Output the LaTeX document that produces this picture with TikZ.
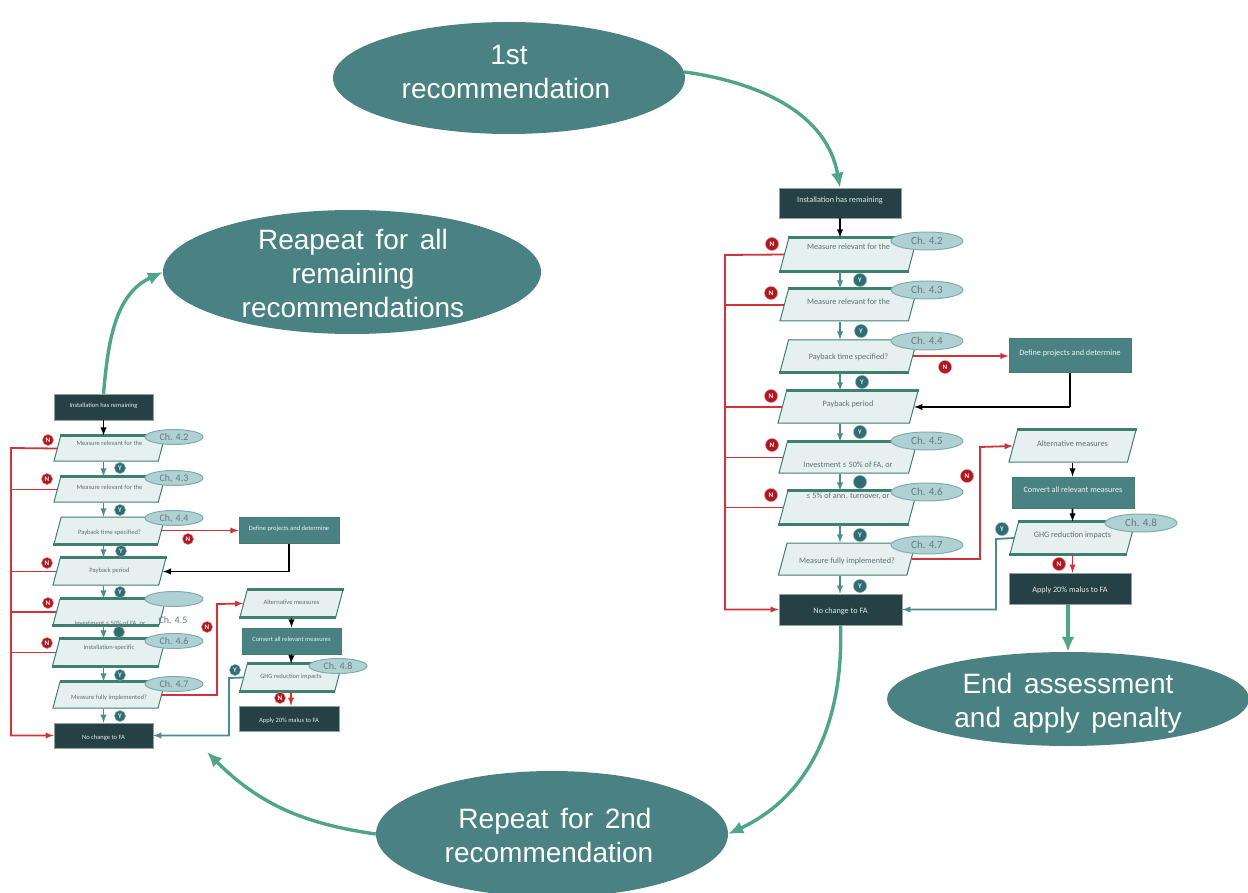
\documentclass[tikz,border=0pt]{standalone}
\usepackage{fontspec}
\setmainfont{Carlito}
\newfontfamily\bigfont[WordSpace=1.5]{Liberation Sans}
\usetikzlibrary{arrows.meta}
\usetikzlibrary{shapes.geometric}
\tikzset{>=latex}
\definecolor{darkbox}{HTML}{264145}
\definecolor{tealbox}{HTML}{4A8284}
\definecolor{parafill}{HTML}{E6F0F0}
\definecolor{paraedge}{HTML}{3F7F70}
\definecolor{chfill}{HTML}{AFD1D3}
\definecolor{chedge}{HTML}{7FADAE}
\definecolor{flowgreen}{HTML}{4FA58A}
\definecolor{redline}{HTML}{D0343A}
\definecolor{tealline}{HTML}{4A8B90}
\definecolor{yesfill}{HTML}{2F6D73}
\definecolor{nofill}{HTML}{B01820}
\newcommand{\chartfont}{\fontsize{8.2}{10}\selectfont}
\newcommand{\chfont}{\fontsize{11}{13}\selectfont}
% text moved up from the middle of its node
\newcommand{\tup}[2]{\smash{\raisebox{\dimexpr#1pt-3.5pt\relax}{#2}}}
\newcommand{\bigup}[3]{\smash{\hspace*{#1pt}\raisebox{\dimexpr#2pt-7pt\relax}{\begin{tabular}{@{}c@{}}#3\end{tabular}}}}
\tikzset{
  para/.style 2 args={draw=paraedge,fill=parafill,line width=1pt,shape=trapezium,trapezium stretches body=true,
    trapezium left angle=75,trapezium right angle=105,minimum width=#1pt,text height=0.5*#2pt,text depth=0.5*#2pt,inner sep=0pt,
    text=darkbox!75,font=\chartfont},
  paratext/.style={inner sep=0pt,text=darkbox!75,font=\chartfont},
  darkrect/.style 2 args={fill=darkbox,draw=darkbox!50,line width=.5pt,minimum width=#1pt,minimum height=#2pt,inner sep=0pt,
    text=white!88!darkbox,font=\chartfont},
  tealrect/.style 2 args={fill=tealbox,draw=paraedge,line width=1pt,minimum width=#1pt,minimum height=#2pt,inner sep=0pt,
    text=white!90!tealbox,font=\chartfont},
  chell/.style 2 args={ellipse,fill=chfill,draw=chedge,line width=1pt,minimum width=#1pt,minimum height=#2pt,inner sep=0pt,
    text=darkbox!70,font=\chfont},
  chtext/.style={inner sep=0pt,text=darkbox!70,font=\chfont},
  bigell/.style 2 args={ellipse,fill=tealbox,minimum width=#1pt,minimum height=#2pt,inner sep=0pt,
    text=white,font=\bigfont\fontsize{28}{34}\selectfont},
  yes/.style={circle,fill=yesfill,draw=tealbox!70,line width=.5pt,minimum size=13pt,inner sep=0pt,text=white!85!tealbox,
    font=\bfseries\fontsize{7}{7}\selectfont},
  no/.style={circle,fill=nofill,draw=redline!60,line width=.5pt,minimum size=13pt,inner sep=0pt,text=white,
    font=\bfseries\fontsize{7}{7}\selectfont},
  blackflow/.style={->,black,line width=1.8pt},
  tealflow/.style={->,tealline,line width=1.8pt},
  redflow/.style={->,redline,line width=1.8pt},
  redbranch/.style={redline,line width=1.8pt},
  blackline/.style={black,line width=1.8pt},
  bigflow/.style={-{Latex[length=15pt,width=13pt]},flowgreen,line width=3.4pt},
  thickedge/.style={paraedge,line width=2.4pt}
}

\begin{document}
\begin{tikzpicture}[x=1pt,y=-1pt]
    \useasboundingbox (0,0) rectangle (1248,893);
    % chart on the right
    \begin{scope}
      \node[darkrect={122}{30}] (rtop) at (840,203) {\tup{4}{Installation has remaining}};
      \node[para={137}{33}] (rq1) at (848.5,254.5) {\tup{8.5}{Measure relevant for the}};
      \node[para={137}{32}] (rq2) at (848.5,305) {\tup{4}{Measure relevant for the}};
      \node[para={137}{32}] (rq3) at (848.5,356) {\tup{0}{Payback time specified?}};
      \node[para={140}{32}] (rq4) at (848,407) {\tup{4}{Payback period}};
      \node[para={138}{31}] (rq5) at (848,457.5) {\tup{-6.5}{Investment ≤ 50\% of FA, or}};
      \node[para={138}{33}] (rq6) at (848,507.5) {\tup{12.5}{≤ 5\% of ann. turnover, or}};
      \node[para={137}{32}] (rq7) at (847,559) {\tup{-1}{Measure fully implemented?}};
      \node[darkrect={123}{31}] (rend) at (840.5,609.5) {\tup{0}{No change to FA}};
      \node[tealrect={122}{33}] (rdef) at (1070,355.5) {\tup{3.5}{Define projects and determine}};
      \node[para={127}{32}] (ralt) at (1072.5,446) {\tup{3}{Alternative measures}};
      \node[tealrect={122}{31}] (rconv) at (1073,492.5) {\tup{3.5}{Convert all relevant measures}};
      \node[para={125}{32}] (rghg) at (1072.5,538) {\tup{4}{GHG reduction impacts}};
      \node[darkrect={122}{31}] (rapply) at (1070,588.5) {\tup{0}{Apply 20\% malus to FA}};
      \coordinate (rtrunk) at (725,255);
      \coordinate (rjog) at (980,447);
      \coordinate (ryes) at (996,539);

      \draw[thickedge] (rq1.top left corner) -- (rq1.top right corner);
      \draw[thickedge] (rq1.bottom left corner) -- (rq1.bottom right corner);
      \draw[thickedge] (rq2.top left corner) -- (rq2.top right corner);
      \draw[thickedge] (rq3.bottom left corner) -- (rq3.bottom right corner);
      \draw[thickedge] (rq4.top left corner) -- (rq4.top right corner);
      \draw[thickedge] (rq5.top left corner) -- (rq5.top right corner);
      \draw[thickedge] (rq6.top left corner) -- (rq6.top right corner);
      \draw[thickedge] (rq6.bottom left corner) -- (rq6.bottom right corner);
      \draw[thickedge] (ralt.top left corner) -- (ralt.top right corner);
      \draw[thickedge] (rghg.top left corner) -- (rghg.top right corner);
      \draw[thickedge] (rghg.bottom left corner) -- (rghg.bottom right corner);

      \draw[blackflow] (rtop.south) -- (rq1.north -| rtop.south);
      \draw[tealflow] (rq1.south -| rtop.south) -- (rq2.north -| rtop.south);
      \draw[tealflow] (rq2.south -| rtop.south) -- (rq3.north -| rtop.south);
      \draw[tealflow] (rq3.south -| rtop.south) -- (rq4.north -| rtop.south);
      \draw[tealflow] (rq4.south -| rtop.south) -- (rq5.north -| rtop.south);
      \draw[tealflow] (rq5.south -| rtop.south) -- (rq6.north -| rtop.south);
      \draw[tealflow] (rq6.south -| rtop.south) -- (rq7.north -| rtop.south);
      \draw[tealflow] (rq7.south -| rtop.south) -- (rend.north -| rtop.south);

      \draw[redflow] (rq1.west) -- (rtrunk) -- (rtrunk |- rend.west) -- (rend.west);
      \draw[redbranch] (rq2.west) -- (rq2.west -| rtrunk);
      \draw[redbranch] (rq4.west) -- (rq4.west -| rtrunk);
      \draw[redbranch] (rq5.west) -- (rq5.west -| rtrunk);
      \draw[redbranch] (rq6.west) -- (rq6.west -| rtrunk);
      \draw[redflow] (rq3.east) -- (rq3.east -| rdef.west);
      \draw[blackline] (rdef.south) -- (rdef.south |- rq4.east);
      \draw[blackflow] (rdef.south |- rq4.east) -- (rq4.east);
      \draw[redflow] (rq7.east) -- (rq7.east -| rjog) -- (rjog) -- (ralt.west);
      \draw[blackflow] (ralt.south) -- (rconv.north -| ralt.south);
      \draw[blackflow] (rconv.south -| ralt.south) -- (rghg.north);
      \draw[redflow] (rghg.south) -- (rapply.north -| rghg.south);
      \draw[tealflow] (rghg.west) -- (ryes) -- (ryes |- rend.east) -- (rend.east);

      \node[chell={72}{18}] (rch2) at (927,241) {Ch. 4.2};
      \node[chell={72}{18}] (rch3) at (927,290) {Ch. 4.3};
      \node[chell={72}{18}] (rch4) at (927,341) {Ch. 4.4};
      \node[chell={72}{18}] (rch5) at (927,441) {Ch. 4.5};
      \node[chell={72}{18}] (rch6) at (927,492) {Ch. 4.6};
      \node[chell={72}{18}] (rch7) at (927,545) {Ch. 4.7};
      \node[chell={72}{18}] (rch8) at (1141,523) {Ch. 4.8};

      \node[yes] (ry1) at (860,280) {Y};
      \node[yes] (ry2) at (861,331) {Y};
      \node[yes] (ry3) at (862,382) {Y};
      \node[yes] (ry4) at (860,432) {Y};
      \node[yes] (ry5) at (860,482) {};
      \node[yes] (ry6) at (860,535) {Y};
      \node[yes] (ry7) at (860,586) {Y};
      \node[yes] (ry8) at (1002,529) {Y};
      \node[no] (rn1) at (772,244) {N};
      \node[no] (rn2) at (771,293) {N};
      \node[no] (rn3) at (945,367) {N};
      \node[no] (rn4) at (771,396) {N};
      \node[no] (rn5) at (772,445) {N};
      \node[no] (rn6) at (771,495) {N};
      \node[no] (rn7) at (967,476) {N};
      \node[no] (rn8) at (1059,564) {N};
    \end{scope}
    % smaller copy on the left
    \begin{scope}
      \renewcommand{\chartfont}{\fontsize{6.5}{8}\selectfont}
      \renewcommand{\chfont}{\fontsize{10}{12}\selectfont}
      \node[darkrect={99}{26}] (ltop) at (103.5,407) {\tup{3}{Installation has remaining}};
      \node[para={111}{25}] (lq1) at (109.5,448.5) {\tup{6.5}{Measure relevant for the}};
      \node[para={111}{25}] (lq2) at (109.5,489.5) {\tup{3.5}{Measure relevant for the}};
      \node[para={111}{27}] (lq3) at (109.5,530.5) {\tup{0}{Payback time specified?}};
      \node[para={113}{27}] (lq4) at (109.5,571.5) {\tup{2.5}{Payback period}};
      \node[para={113}{26}] (lq5) at (109.5,612) {};
      \node[para={113}{27}] (lq6) at (109,652.5) {\tup{6.5}{Installation-specific}};
      \node[para={112}{26}] (lq7) at (109,695) {\tup{-1}{Measure fully implemented?}};
      \node[darkrect={99}{25}] (lend) at (103.5,735.5) {\tup{0}{No change to FA}};
      \node[tealrect={100}{26}] (ldef) at (289,530) {\tup{3}{Define projects and determine}};
      \node[para={103}{27}] (lalt) at (291.5,603.5) {\tup{2.5}{Alternative measures}};
      \node[tealrect={99}{26}] (lconv) at (291.5,641) {\tup{3}{Convert all relevant measures}};
      \node[para={102}{27}] (lghg) at (291,677.5) {\tup{2.5}{GHG reduction impacts}};
      \node[darkrect={100}{25}] (lapply) at (289,718.5) {\tup{0}{Apply 20\% malus to FA}};
      \coordinate (ltrunk) at (11,448);
      \coordinate (ljog) at (217,604);
      \coordinate (lyes) at (229,678);

      \draw[thickedge] (lq1.top left corner) -- (lq1.top right corner);
      \draw[thickedge] (lq2.top left corner) -- (lq2.top right corner);
      \draw[thickedge] (lq3.bottom left corner) -- (lq3.bottom right corner);
      \draw[thickedge] (lq4.top left corner) -- (lq4.top right corner);
      \draw[thickedge] (lq5.top left corner) -- (lq5.top right corner);
      \draw[thickedge] (lq5.bottom left corner) -- (lq5.bottom right corner);
      \draw[thickedge] (lq6.top left corner) -- (lq6.top right corner);
      \draw[thickedge] (lq6.bottom left corner) -- (lq6.bottom right corner);
      \draw[thickedge] (lq7.top left corner) -- (lq7.top right corner);
      \draw[thickedge] (lalt.top left corner) -- (lalt.top right corner);
      \draw[thickedge] (lalt.bottom left corner) -- (lalt.bottom right corner);
      \draw[thickedge] (lghg.top left corner) -- (lghg.top right corner);
      \draw[thickedge] (lghg.bottom left corner) -- (lghg.bottom right corner);
      \node[paratext] (lq5t) at (110,624) {Investment ≤ 50\% of FA, or};

      \draw[blackflow] (ltop.south) -- (lq1.north -| ltop.south);
      \draw[tealflow] (lq1.south -| ltop.south) -- (lq2.north -| ltop.south);
      \draw[tealflow] (lq2.south -| ltop.south) -- (lq3.north -| ltop.south);
      \draw[tealflow] (lq3.south -| ltop.south) -- (lq4.north -| ltop.south);
      \draw[tealflow] (lq4.south -| ltop.south) -- (lq5.north -| ltop.south);
      \draw[tealflow] (lq5.south -| ltop.south) -- (lq6.north -| ltop.south);
      \draw[tealflow] (lq6.south -| ltop.south) -- (lq7.north -| ltop.south);
      \draw[tealflow] (lq7.south -| ltop.south) -- (lend.north -| ltop.south);

      \draw[redflow] (lq1.west) -- (ltrunk) -- (ltrunk |- lend.west) -- (lend.west);
      \draw[redbranch] (lq2.west) -- (lq2.west -| ltrunk);
      \draw[redbranch] (lq4.west) -- (lq4.west -| ltrunk);
      \draw[redbranch] (lq5.west) -- (lq5.west -| ltrunk);
      \draw[redbranch] (lq6.west) -- (lq6.west -| ltrunk);
      \draw[redflow] (lq3.east) -- (lq3.east -| ldef.west);
      \draw[blackline] (ldef.south) -- (ldef.south |- lq4.east);
      \draw[blackflow] (ldef.south |- lq4.east) -- (lq4.east);
      \draw[redflow] (lq7.east) -- (lq7.east -| ljog) -- (ljog) -- (lalt.west);
      \draw[blackflow] (lalt.south) -- (lconv.north -| lalt.south);
      \draw[blackflow] (lconv.south -| lalt.south) -- (lghg.north);
      \draw[redflow] (lghg.south) -- (lapply.north -| lghg.south);
      \draw[tealflow] (lghg.west) -- (lyes) -- (lyes |- lend.east) -- (lend.east);

      \node[chell={58}{15}] (lch2) at (174,437) {Ch. 4.2};
      \node[chell={58}{15}] (lch3) at (174,478) {Ch. 4.3};
      \node[chell={58}{15}] (lch4) at (174,518) {Ch. 4.4};
      \node[chell={58}{15}] (lch5) at (174,599) {};
      \node[chtext] (lch5t) at (173,620) {Ch. 4.5};
      \node[chell={58}{15}] (lch6) at (174,641) {Ch. 4.6};
      \node[chell={58}{15}] (lch7) at (174,684) {Ch. 4.7};
      \node[chell={58}{15}] (lch8) at (338,666) {Ch. 4.8};

      \node[yes,minimum size=11pt] (ly1) at (120,468) {Y};
      \node[yes,minimum size=11pt] (ly2) at (120,510) {Y};
      \node[yes,minimum size=11pt] (ly3) at (121,551) {Y};
      \node[yes,minimum size=11pt] (ly4) at (120,592) {Y};
      \node[yes,minimum size=11pt] (ly5) at (119,632) {};
      \node[yes,minimum size=11pt] (ly6) at (120,675) {Y};
      \node[yes,minimum size=11pt] (ly7) at (120,716) {Y};
      \node[yes,minimum size=11pt] (ly8) at (235,670) {Y};
      \node[no,minimum size=11pt] (ln1) at (48,440) {N};
      \node[no,minimum size=11pt] (ln2) at (47,479) {N};
      \node[no,minimum size=11pt] (ln3) at (188,539) {N};
      \node[no,minimum size=11pt] (ln4) at (47,563) {N};
      \node[no,minimum size=11pt] (ln5) at (48,603) {N};
      \node[no,minimum size=11pt] (ln6) at (47,643) {N};
      \node[no,minimum size=11pt] (ln7) at (207,627) {N};
      \node[no,minimum size=11pt] (ln8) at (280,698) {N};
    \end{scope}
    % big ellipses and the arrows between them
    \node[bigell={352}{112}] (first) at (509,78) {\bigup{-6}{4}{\hspace*{6pt}1st\\recommendation}};
    \node[bigell={378}{124}] (reapeat) at (352,272) {\bigup{2}{-3.5}{Reapeat for all\\remaining\\recommendations}};
    \node[bigell={362}{94}] (penalty) at (1068,699) {\bigup{0}{-3.5}{End assessment\\and apply penalty}};
    \node[bigell={352}{126}] (second) at (552,834) {\bigup{-6}{-3.5}{\hspace*{12pt}Repeat for 2nd\\recommendation}};
    \coordinate (loopend) at (207,752);
    \draw[bigflow] (first.2.4) to[out=-8,in=100] (rtop.north);
    \draw[bigflow] (rapply.south -| penalty.north) -- (penalty.north);
    \draw[bigflow] (rend.south) to[out=-88,in=25] (second.east);
    \draw[bigflow] (second.west) to[out=172,in=-45] (loopend);
    \draw[bigflow] (ltop.north) to[out=85,in=205] (reapeat.west);
  \end{tikzpicture}
\end{document}
